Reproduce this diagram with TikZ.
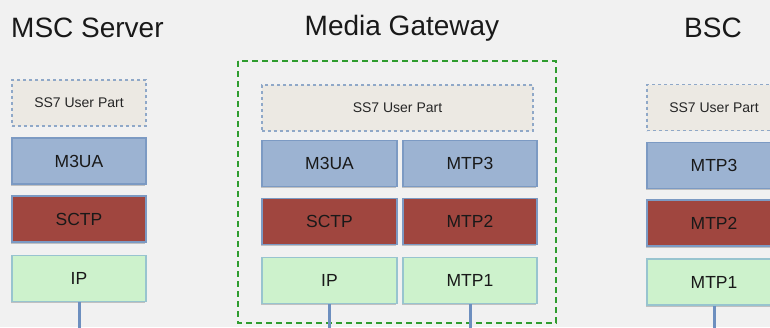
\documentclass[tikz,border=0pt]{standalone}
\usepackage{fontspec}
\setmainfont{Liberation Sans}
\usetikzlibrary{shadows}
\definecolor{fondgris}{HTML}{F1F1F1}
\definecolor{ssfill}{HTML}{ECE9E3}
\definecolor{ssbord}{HTML}{8FA8C8}
\definecolor{bleufill}{HTML}{9CB3D2}
\definecolor{bleubord}{HTML}{7C9AC3}
\definecolor{rougefill}{HTML}{A0463F}
\definecolor{vertfill}{HTML}{CDF2CC}
\definecolor{vertbord}{HTML}{98C4CF}
\definecolor{vertpoint}{HTML}{2F9D2F}
\definecolor{lien}{HTML}{6D8FBF}
\tikzset{
  couche/.style={draw=bleubord, line width=1.6pt, minimum height=46pt, inner sep=0pt,
    font=\fontsize{17.5}{17.5}\selectfont, text=black!90,
    drop shadow={shadow xshift=-1pt, shadow yshift=-1.5pt, opacity=0.35, fill=black!60}},
  userpart/.style={draw=ssbord, dashed, line width=1.2pt, fill=ssfill, minimum height=46pt,
    inner sep=0pt, font=\fontsize{14}{14}\selectfont, text=black!85},
  m3/.style={couche, fill=bleufill},
  m2/.style={couche, fill=rougefill},
  m1/.style={couche, fill=vertfill, draw=vertbord},
  titre/.style={font=\fontsize{28}{28}\selectfont, text=black!90, inner sep=0pt},
  lien/.style={draw=lien, line width=3pt}
}
\begin{document}
\begin{tikzpicture}[x=1pt, y=-1pt]
  % Clip
  \useasboundingbox (0,0) rectangle (770,327);
  \clip (0,0) rectangle (770,327);
  % Fond
  \fill [fondgris] (0,0) rectangle (770,327);
  % Titres
  \node [titre, anchor=west] (tmsc) at (11, 28) {MSC Server};
  \node [titre] (tmg) at (402, 28) {Media Gateway};
  \node [titre] (tbsc) at (713, 28) {BSC};
  % MSC Server
  \node [userpart, minimum width=134pt] (msc4) at (79, 103)   {SS7 User Part};
  \node [m3, minimum width=134pt]       (msc3) at (79, 161)   {M3UA};
  \node [m2, minimum width=134pt]       (msc2) at (79, 219)   {SCTP};
  \node [m1, minimum width=134pt]       (msc1) at (79, 278.5) {IP};
  % Media Gateway
  \draw [vertpoint, line width=2.6pt, dash pattern=on 6pt off 4pt] (238, 61) rectangle (556, 323);
  \node [userpart, minimum width=271pt] (mg4)  at (397.5, 108)   {SS7 User Part};
  \node [m3, minimum width=135pt]       (mg3a) at (329.5, 163.5) {M3UA};
  \node [m3, minimum width=134pt]       (mg3b) at (470, 163.5)   {MTP3};
  \node [m2, minimum width=135pt]       (mg2a) at (329.5, 221.5) {SCTP};
  \node [m2, minimum width=134pt]       (mg2b) at (470, 221.5)   {MTP2};
  \node [m1, minimum width=135pt]       (mg1a) at (329.5, 280.5) {IP};
  \node [m1, minimum width=134pt]       (mg1b) at (470, 280.5)   {MTP1};
  % BSC
  \node [userpart, minimum width=134pt] (bsc4) at (714, 107.5) {SS7 User Part};
  \node [m3, minimum width=134pt]       (bsc3) at (714, 165.5) {MTP3};
  \node [m2, minimum width=134pt]       (bsc2) at (714, 223)   {MTP2};
  \node [m1, minimum width=134pt]       (bsc1) at (714, 282)   {MTP1};
  % Liens
  \coordinate (bmsc)  at (msc1.south |- 0, 330);
  \coordinate (bmga)  at (mg1a.south |- 0, 330);
  \coordinate (bmgb)  at (mg1b.south |- 0, 330);
  \coordinate (bbsc)  at (bsc1.south |- 0, 330);
  \draw [lien] (msc1.south) -- (bmsc);
  \draw [lien] (mg1a.south) -- (bmga);
  \draw [lien] (mg1b.south) -- (bmgb);
  \draw [lien] (bsc1.south) -- (bbsc);
\end{tikzpicture}
\end{document}
